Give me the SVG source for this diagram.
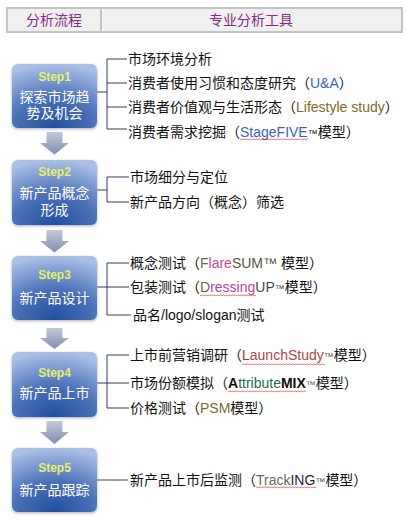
<svg xmlns="http://www.w3.org/2000/svg" width="414" height="522" viewBox="0 0 414 522">
<defs>
<radialGradient id="boxg" cx="0.5" cy="1" r="1">
<stop offset="0" stop-color="#1f4e9c"/>
<stop offset="0.5" stop-color="#4d73b9"/>
<stop offset="1" stop-color="#aabfe6"/>
</radialGradient>
<linearGradient id="arrg" x1="0" y1="0" x2="0" y2="1">
<stop offset="0" stop-color="#c2c9d8"/>
<stop offset="1" stop-color="#7f8fb0"/>
</linearGradient>
<filter id="sh" x="-20%" y="-20%" width="140%" height="140%">
<feDropShadow dx="0" dy="1" stdDeviation="1.6" flood-color="#808890" flood-opacity="0.7"/>
</filter>
<pattern id="wave" patternUnits="userSpaceOnUse" x="0" y="0" width="3" height="3">
<path d="M0,2.3 L1.5,0.7 L3,2.3" stroke="#d02828" stroke-width="0.7" fill="none"/>
</pattern>
</defs>
<style>
.hdr{font-family:"Liberation Sans","Noto Sans CJK SC",sans-serif;font-size:14px;fill:#842c84;text-anchor:middle}
.box{fill:url(#boxg);filter:url(#sh)}
.step{font-family:"Liberation Sans",sans-serif;font-weight:bold;font-size:12px;fill:#e4f26a;text-anchor:middle}
.bt{font-family:"Liberation Sans","Noto Sans CJK SC",sans-serif;font-size:14px;fill:#ffffff;text-anchor:middle}
.it{font-family:"Liberation Sans","Noto Sans CJK SC",sans-serif;font-size:14px;fill:#111111}
.ln{stroke:#2a3f5a;stroke-width:1;fill:none}
.arr{fill:url(#arrg)}
.wv{fill:url(#wave)}
.tm{font-size:10px}
</style>
<g id="header">
<rect x="7" y="8" width="395" height="24" fill="#f0f0f0" stroke="#c4c4c4" stroke-width="2"/>
<line x1="101" y1="8" x2="101" y2="32" stroke="#c4c4c4" stroke-width="2"/>
<text class="hdr" x="54" y="25">分析流程</text>
<text class="hdr" x="251" y="25">专业分析工具</text>
</g>
<g id="arrows">
<path class="arr" d="M46.5,132 H62.5 V143 H69 L54.5,154.5 L40,143 H46.5 Z"/>
<path class="arr" d="M46.5,230 H62.5 V241 H69 L54.5,252.5 L40,241 H46.5 Z"/>
<path class="arr" d="M46.5,328 H62.5 V338 H69 L54.5,349 L40,338 H46.5 Z"/>
<path class="arr" d="M46.5,421 H62.5 V432 H69 L54.5,444 L40,432 H46.5 Z"/>
</g>
<g id="connectors">
<path class="ln" d="M97,92 H107 M107,59 V129 M107,59 H127 M107,83 H127 M107,107 H127 M107,129 H127"/>
<path class="ln" d="M97,190 H107 M107,177 V202 M107,177 H129 M107,202 H129"/>
<path class="ln" d="M97,287 H129 M107,263 V315 M107,263 H129 M107,315 H131"/>
<path class="ln" d="M97,383 H129 M107,355 V408 M107,355 H129 M107,408 H129"/>
<path class="ln" d="M97,480 H128"/>
</g>
<g id="step1">
<rect class="box" x="12" y="64" width="85" height="64" rx="6"/>
<text class="step" x="54.5" y="81">Step1</text>
<text class="bt" x="54.5" y="102">探索市场趋</text>
<text class="bt" x="54.5" y="118">势及机会</text>
</g>
<g id="step2">
<rect class="box" x="12" y="160" width="85" height="65" rx="6"/>
<text class="step" x="54.5" y="176">Step2</text>
<text class="bt" x="54.5" y="198">新产品概念</text>
<text class="bt" x="54.5" y="215">形成</text>
</g>
<g id="step3">
<rect class="box" x="12" y="256" width="85" height="64" rx="6"/>
<text class="step" x="54.5" y="279">Step3</text>
<text class="bt" x="54.5" y="303">新产品设计</text>
</g>
<g id="step4">
<rect class="box" x="12" y="352" width="85" height="65" rx="6"/>
<text class="step" x="54.5" y="377">Step4</text>
<text class="bt" x="54.5" y="398">新产品上市</text>
</g>
<g id="step5">
<rect class="box" x="12" y="448" width="85" height="64" rx="6"/>
<text class="step" x="54.5" y="472">Step5</text>
<text class="bt" x="54.5" y="495">新产品跟踪</text>
</g>
<g id="tools1">
<text class="it" x="128" y="64">市场环境分析</text>
<text class="it" x="128" y="88">消费者使用习惯和态度研究（<tspan fill="#3a63b8">U&amp;A</tspan>）</text>
<text class="it" x="128" y="112">消费者价值观与生活形态（<tspan fill="#806a28">Lifestyle study</tspan>）</text>
<text class="it" x="128" y="137">消费者需求挖掘（<tspan fill="#3a63b8">StageFIVE</tspan><tspan class="tm">™</tspan>模型）</text>
<rect class="wv" x="240" y="138" width="68" height="3"/>
</g>
<g id="tools2">
<text class="it" x="130" y="182">市场细分与定位</text>
<text class="it" x="130" y="207">新产品方向（概念）筛选</text>
</g>
<g id="tools3">
<text class="it" x="130" y="268">概念测试（<tspan fill="#6b6b2a">F</tspan><tspan fill="#d0459c">lare</tspan><tspan fill="#55553a">SUM™</tspan> 模型）</text>
<text class="it" x="130" y="292">包装测试（<tspan fill="#6b6b2a">D</tspan><tspan fill="#c8409a">ressing</tspan><tspan fill="#444444">UP</tspan><tspan class="tm" fill="#444444">™</tspan>模型）</text>
<rect class="wv" x="200" y="294" width="56" height="3"/>
<text class="it" x="133" y="320">品名/logo/slogan测试</text>
</g>
<g id="tools4">
<text class="it" x="130" y="360">上市前营销调研（<tspan fill="#c02a2a">L</tspan><tspan fill="#a84848">aunchStudy</tspan><tspan class="tm" fill="#555555">™</tspan>模型）</text>
<rect class="wv" x="242" y="362" width="83" height="3"/>
<text class="it" x="130" y="388">市场份额模拟（<tspan fill="#111111" font-weight="bold">A</tspan><tspan fill="#2a6a50">ttribute</tspan><tspan fill="#111111" font-weight="bold">MIX</tspan><tspan class="tm" fill="#666666">™</tspan>模型）</text>
<rect class="wv" x="228" y="390" width="78" height="3"/>
<text class="it" x="130" y="413">价格测试（<tspan fill="#7a6a30">PSM</tspan>模型）</text>
</g>
<g id="tools5">
<text class="it" x="130" y="485">新产品上市后监测（<tspan fill="#6a6a5a">Track</tspan><tspan fill="#2a1a40">ING</tspan><tspan class="tm" fill="#555555">™</tspan>模型）</text>
<rect class="wv" x="256" y="486" width="60" height="3"/>
</g>
</svg>
